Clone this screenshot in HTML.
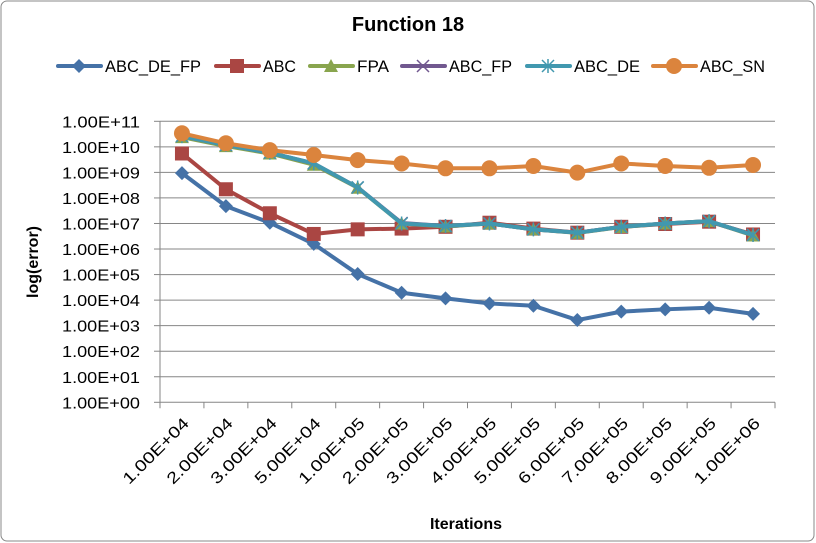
<!DOCTYPE html>
<html><head><meta charset="utf-8"><style>
html,body{margin:0;padding:0;background:#fff;}
svg{display:block;font-family:"Liberation Sans",Arial,sans-serif;}
</style></head><body>
<svg id="chart" width="816" height="543" viewBox="0 0 816 543">
<rect x="1" y="1" width="813" height="540" rx="6" fill="#fff" stroke="#888" stroke-width="1"/>
<text x="408" y="31" text-anchor="middle" font-size="20" font-weight="bold">Function 18</text>
<g id="grid"></g>
<g id="axes"></g>
<g id="series"></g>
<g id="legend"></g>
<text x="0" y="0" transform="translate(38,262) rotate(-90)" text-anchor="middle" font-size="16" font-weight="bold">log(error)</text>
<text x="466" y="529" text-anchor="middle" font-size="16" font-weight="bold">Iterations</text>
</svg>
<script>
const categories = ["1.00E+04","2.00E+04","3.00E+04","5.00E+04","1.00E+05","2.00E+05","3.00E+05","4.00E+05","5.00E+05","6.00E+05","7.00E+05","8.00E+05","9.00E+05","1.00E+06"];
const yTickLabels = ["1.00E+00","1.00E+01","1.00E+02","1.00E+03","1.00E+04","1.00E+05","1.00E+06","1.00E+07","1.00E+08","1.00E+09","1.00E+10","1.00E+11"];
// log10(error) values
const abcDeFp = [8.97,7.68,7.03,6.2,5.02,4.29,4.07,3.87,3.78,3.22,3.55,3.64,3.7,3.46];
const abc = [9.74,8.34,7.4,6.59,6.77,6.8,6.87,7.03,6.8,6.64,6.87,6.98,7.07,6.57];
const fpa = [10.38,10.03,9.74,9.3,8.4,7.0,6.88,7.0,6.77,6.63,6.86,7.0,7.09,6.53];
const abcFp = [10.42,10.07,9.77,9.35,8.41,7.02,6.9,7.0,6.77,6.64,6.87,7.0,7.09,6.55];
const abcDe = [10.42,10.07,9.77,9.35,8.41,7.0,6.9,7.0,6.77,6.64,6.87,7.0,7.09,6.55];
const abcSn = [10.53,10.14,9.87,9.68,9.48,9.35,9.16,9.16,9.25,8.99,9.35,9.25,9.18,9.29];

const NS="http://www.w3.org/2000/svg";
const L=160,R=775,T=121.3,B=402.3,YMAX=11;
const bw=(R-L)/categories.length;
function xs(i){return L+bw*(i+0.5);}
function ys(v){return B-(B-T)*v/YMAX;}
function mk(tag,attrs,parent){const e=document.createElementNS(NS,tag);for(const k in attrs)e.setAttribute(k,attrs[k]);parent.appendChild(e);return e;}
const grid=document.getElementById('grid'),axes=document.getElementById('axes'),ser=document.getElementById('series'),leg=document.getElementById('legend');
yTickLabels.forEach((lab,i)=>{
  const y=ys(i);
  if(i>0){const g=mk('line',{x1:L,x2:R,y1:y,y2:y,stroke:'#868686','stroke-width':1},grid);
  
  }
  const tk=mk('line',{x1:L-6,x2:L,y1:y,y2:y,stroke:'#868686'},axes);
  
  
  const t=mk('text',{x:62,y:y+6,'font-size':16,textLength:78,lengthAdjust:'spacingAndGlyphs'},axes);
  t.textContent=lab;
  
  
});
let ya=mk('line',{x1:L,x2:L,y1:T,y2:B,stroke:'#868686'},axes);


let xa=mk('line',{x1:L,x2:R,y1:B,y2:B,stroke:'#868686'},axes);


for(let i=0;i<=categories.length;i++){
  const x=L+bw*i;
  const tk=mk('line',{x1:x,x2:x,y1:B,y2:B+6,stroke:'#868686'},axes);
  
  
}
categories.forEach((c,i)=>{
  const x=xs(i)+8,y=B+22;
  const t=mk('text',{x:0,y:0,'text-anchor':'end','font-size':16,textLength:86,lengthAdjust:'spacingAndGlyphs',transform:`translate(${x},${y}) rotate(-45)`},axes);
  t.textContent=c;
  
  
});
function marker(type,x,y,color,g){
  let e;
  if(type==='diamond') e=mk('polygon',{points:`${x},${y-7} ${x+7},${y} ${x},${y+7} ${x-7},${y}`,fill:color},g);
  else if(type==='square') e=mk('rect',{x:x-7,y:y-7,width:14,height:14,fill:color},g);
  else if(type==='triangle') e=mk('polygon',{points:`${x},${y-7} ${x+7},${y+6} ${x-7},${y+6}`,fill:color},g);
  else if(type==='x') e=mk('path',{d:`M${x-6},${y-6}L${x+6},${y+6}M${x-6},${y+6}L${x+6},${y-6}`,stroke:color,'stroke-width':1.5},g);
  else if(type==='star') e=mk('path',{d:`M${x-6},${y-6}L${x+6},${y+6}M${x-6},${y+6}L${x+6},${y-6}M${x},${y-7}L${x},${y+7}`,stroke:color,'stroke-width':1.5},g);
  else e=mk('circle',{cx:x,cy:y,r:8,fill:color},g);
  return e;
}
const seriesDefs=[
 {name:'ABC_DE_FP',data:abcDeFp,color:'#4572A7',m:'diamond',lx:58,tw:96,key:'abc-de-fp'},
 {name:'ABC',data:abc,color:'#AA4643',m:'square',lx:216,tw:33,key:'abc'},
 {name:'FPA',data:fpa,color:'#89A54E',m:'triangle',lx:310,tw:32,key:'fpa'},
 {name:'ABC_FP',data:abcFp,color:'#71588F',m:'x',lx:402,tw:63,key:'abc-fp'},
 {name:'ABC_DE',data:abcDe,color:'#4198AF',m:'star',lx:527,tw:66,key:'abc-de'},
 {name:'ABC_SN',data:abcSn,color:'#DB843D',m:'circle',lx:653,tw:65,key:'abc-sn'}
];
seriesDefs.forEach(s=>{
  const g=mk('g',{},ser);
  
  
  const pts=s.data.map((v,i)=>xs(i)+','+ys(v)).join(' ');
  const pl=mk('polyline',{points:pts,fill:'none',stroke:s.color,'stroke-width':4,'stroke-linejoin':'round'},g);
  
  
  s.data.forEach((v,i)=>{
    const m=marker(s.m,xs(i),ys(v),s.color,g);
    
    
  });
  const lg=mk('g',{},leg);
  
  
  const ly=66;
  mk('line',{x1:s.lx,x2:s.lx+43,y1:ly,y2:ly,stroke:s.color,'stroke-width':4,'stroke-linecap':'round'},lg);
  marker(s.m,s.lx+21,ly,s.color,lg);
  const t=mk('text',{x:s.lx+47,y:ly+6,'font-size':17,textLength:s.tw,lengthAdjust:'spacingAndGlyphs'},lg);
  t.textContent=s.name;
});
</script>
</body></html>
